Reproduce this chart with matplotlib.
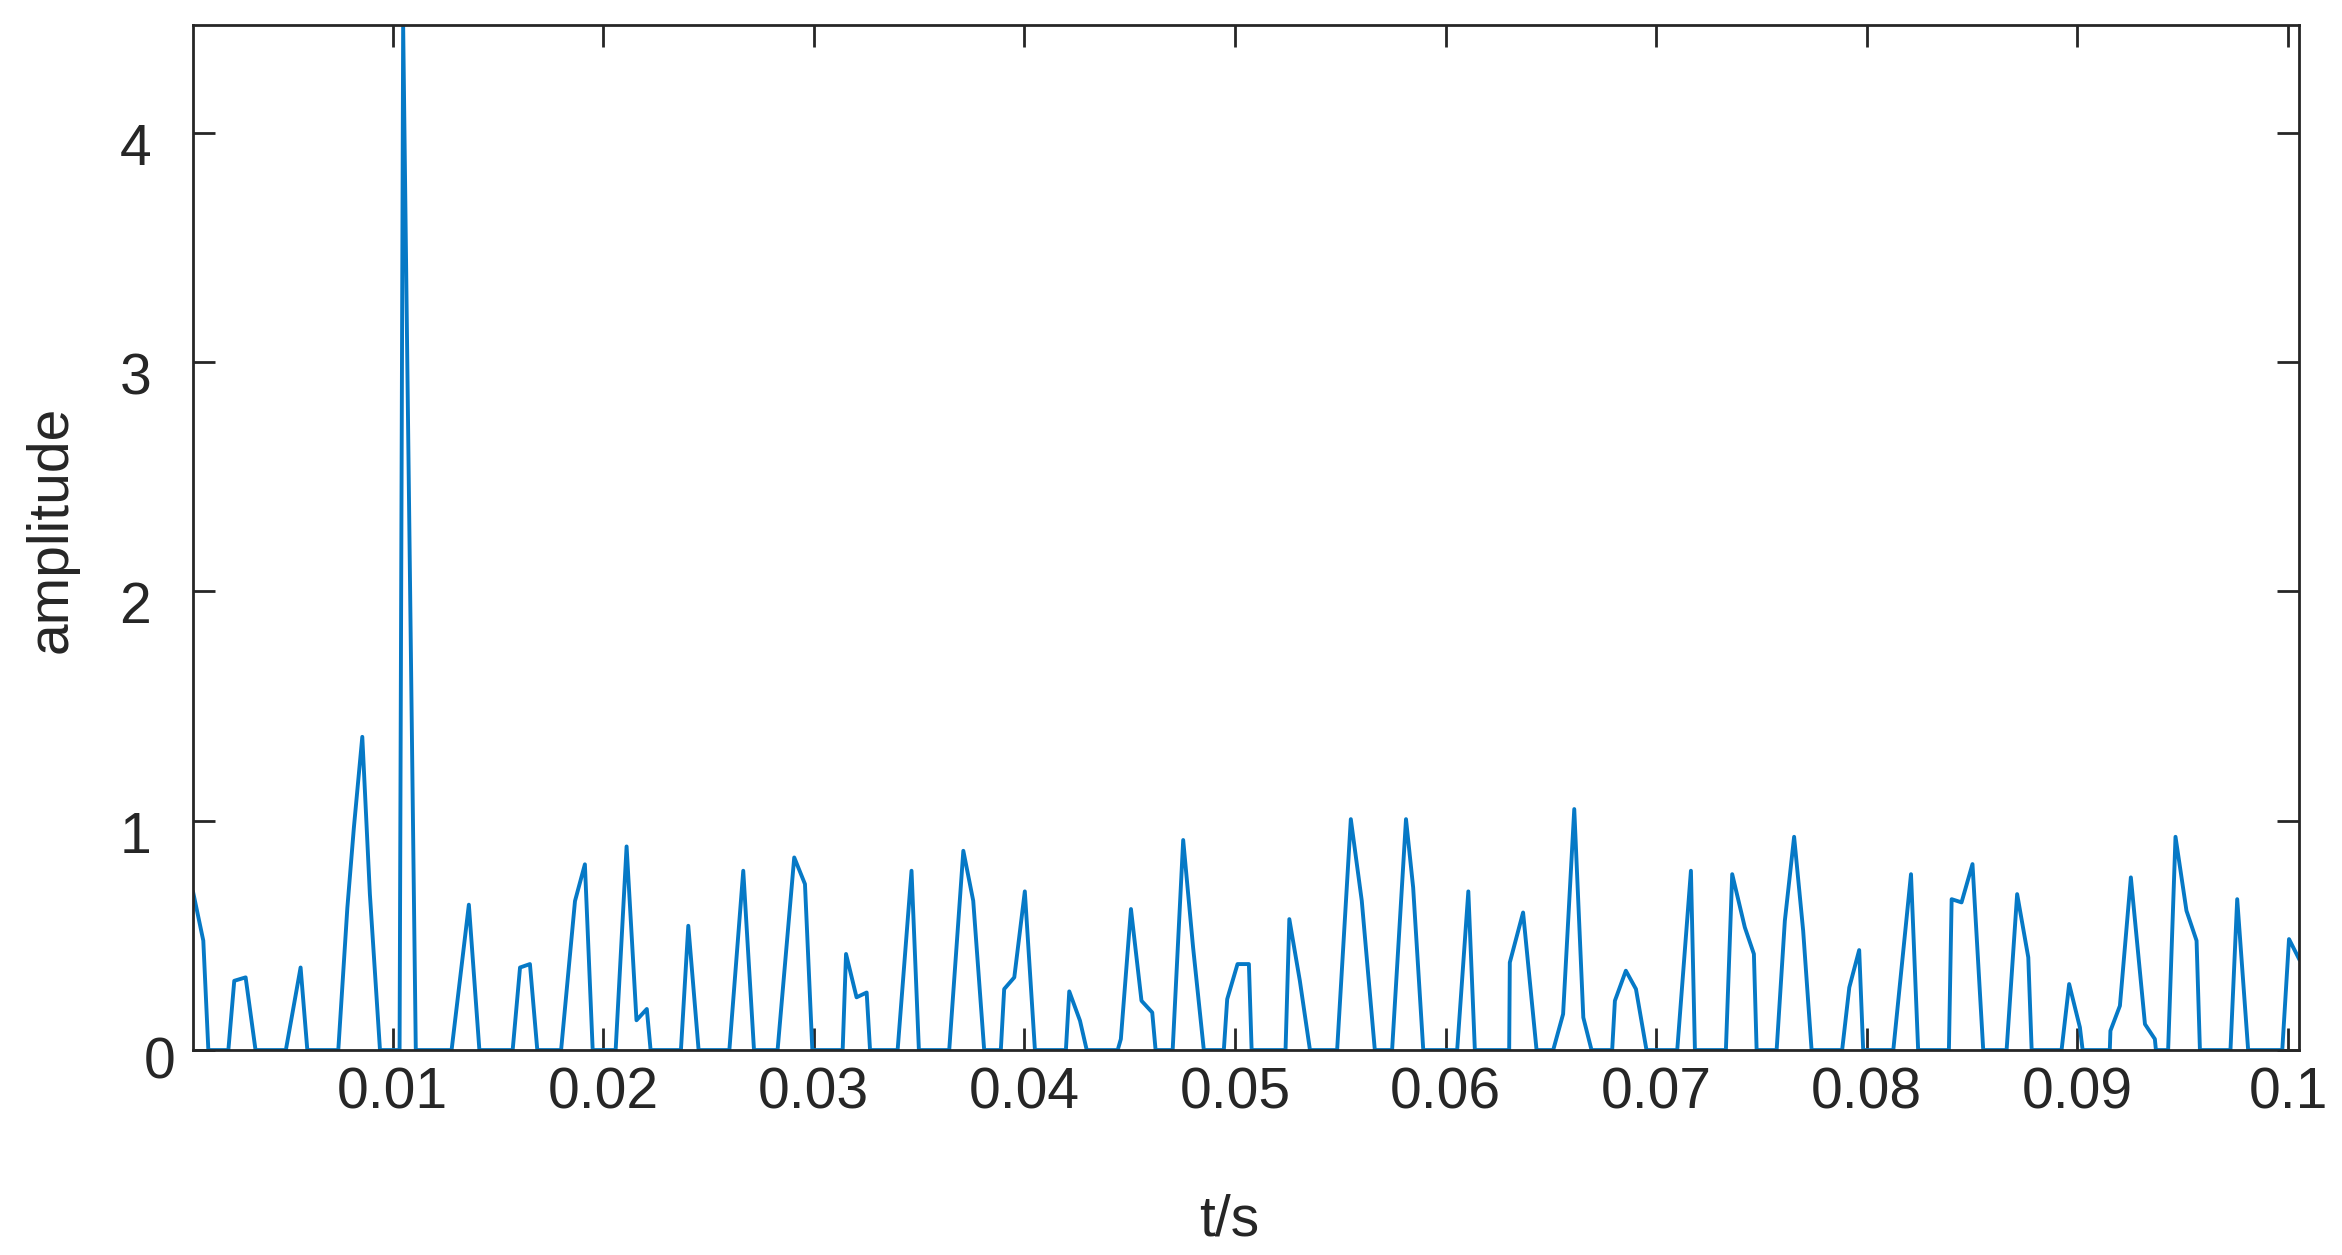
import matplotlib.pyplot as plt
import numpy as np
from matplotlib.transforms import ScaledTranslation

# vertices of the trace, time in ms and amplitude
t_ms = [0.53, 1.01, 1.25, 2.20, 2.48, 3.02, 3.49, 4.93, 5.63, 5.95,
        7.42, 7.85, 8.16, 8.56, 8.92, 9.40, 10.33, 10.50, 11.10, 12.80,
        13.62, 14.12, 15.70, 16.05, 16.52, 16.87, 18.00, 18.66, 19.13, 19.50,
        20.59, 21.11, 21.58, 22.07, 22.25, 23.69, 24.04, 24.53, 25.99, 26.65,
        27.16, 28.28, 29.07, 29.58, 29.93, 31.37, 31.53, 32.03, 32.51, 32.67,
        33.98, 34.64, 34.99, 36.43, 37.10, 37.57, 38.09, 38.88, 39.04, 39.52,
        40.02, 40.50, 41.97, 42.13, 42.64, 42.96, 44.43, 44.58, 45.06, 45.56,
        46.07, 46.23, 47.04, 47.54, 48.01, 48.52, 49.47, 49.63, 50.12, 50.66,
        50.79, 52.40, 52.58, 53.08, 53.56, 54.85, 55.50, 56.02, 56.64, 57.46,
        58.12, 58.46, 58.94, 60.55, 61.08, 61.39, 63.02, 63.05, 63.68, 64.32,
        65.11, 65.58, 66.11, 66.54, 66.93, 67.91, 68.04, 68.56, 69.04, 69.54,
        71.00, 71.65, 71.84, 73.31, 73.61, 74.21, 74.64, 74.77, 75.72, 76.11,
        76.55, 76.98, 77.38, 78.83, 79.17, 79.64, 79.83, 81.26, 82.10, 82.44,
        83.90, 84.03, 84.50, 85.02, 85.53, 86.64, 87.14, 87.67, 87.83, 89.25,
        89.61, 90.12, 90.25, 91.54, 91.57, 92.02, 92.54, 93.21, 93.68, 93.73,
        94.31, 94.66, 95.18, 95.66, 95.82, 97.27, 97.59, 98.11, 99.73, 100.05,
        100.53]
amplitude = [0.687, 0.477, 0, 0, 0.302, 0.317, 0, 0, 0.36, 0,
             0, 0.62, 0.97, 1.366, 0.68, 0, 0, 4.47, 0, 0,
             0.634, 0, 0, 0.36, 0.375, 0, 0, 0.65, 0.81, 0,
             0, 0.888, 0.13, 0.179, 0, 0, 0.542, 0, 0, 0.782,
             0, 0, 0.84, 0.724, 0, 0, 0.419, 0.23, 0.251, 0,
             0, 0.782, 0, 0, 0.869, 0.651, 0, 0, 0.266, 0.317,
             0.692, 0, 0, 0.256, 0.128, 0, 0, 0.048, 0.615, 0.215,
             0.164, 0, 0, 0.916, 0.448, 0, 0, 0.222, 0.375, 0.375,
             0, 0, 0.571, 0.302, 0, 0, 1.007, 0.651, 0, 0,
             1.007, 0.709, 0, 0, 0.692, 0, 0, 0.382, 0.60, 0,
             0, 0.157, 1.051, 0.142, 0, 0, 0.215, 0.346, 0.266, 0,
             0, 0.782, 0, 0, 0.767, 0.535, 0.419, 0, 0, 0.564,
             0.93, 0.52, 0, 0, 0.273, 0.436, 0, 0, 0.767, 0,
             0, 0.658, 0.644, 0.811, 0, 0, 0.68, 0.404, 0, 0,
             0.288, 0.099, 0, 0, 0.084, 0.193, 0.753, 0.113, 0.048, 0,
             0, 0.93, 0.608, 0.477, 0, 0, 0.658, 0, 0, 0.484,
             0.397]

x_ticks = [0.01, 0.02, 0.03, 0.04, 0.05, 0.06, 0.07, 0.08, 0.09, 0.1]
x_tick_labels = ['0.01', '0.02', '0.03', '0.04', '0.05',
                 '0.06', '0.07', '0.08', '0.09', '0.1']
y_ticks = [0, 1, 2, 3, 4]
y_tick_labels = ['0', '1', '2', '3', '4']


def main():
    plt.rcParams['font.family'] = ['Liberation Sans', 'DejaVu Sans']
    dark = '#262626'

    fig = plt.figure(figsize=(23.42, 12.55), dpi=100)
    ax = fig.add_axes([0.0824, 0.1633, 0.8992, 0.8167])

    t = np.array(t_ms) / 1000.0
    ax.plot(t, amplitude, color='#0679C6', lw=2.8)

    ax.set_xlim(0.00052, 0.10052)
    ax.set_ylim(0, 4.47)
    ax.set_xticks(x_ticks)
    ax.set_xticklabels(x_tick_labels)
    ax.set_yticks(y_ticks)
    ax.set_yticklabels(y_tick_labels)

    ax.tick_params(direction='in', length=16, width=2.0, top=True, right=True,
                   labelsize=41, colors=dark)
    ax.tick_params(axis='x', pad=12)
    ax.tick_params(axis='y', pad=30)
    for s in ax.spines.values():
        s.set_linewidth(2.0)
        s.set_color(dark)

    # the y labels sit a bit low in the reference, and the 0 closer to the axis
    for lbl in ax.get_yticklabels():
        dx, dy = (24, -7) if lbl.get_text() == '0' else (0, -11)
        lbl.set_transform(lbl.get_transform() +
                          ScaledTranslation(dx / 100, dy / 100, fig.dpi_scale_trans))

    ax.set_xlabel('t/s', fontsize=41, color=dark)
    ax.xaxis.set_label_coords(0.492, -0.1395)
    ax.set_ylabel('amplitude', fontsize=41, color=dark)
    ax.yaxis.set_label_coords(-0.0542, 0.508)

    fig.savefig('out.png', dpi=100)


if __name__ == '__main__':
    main()
